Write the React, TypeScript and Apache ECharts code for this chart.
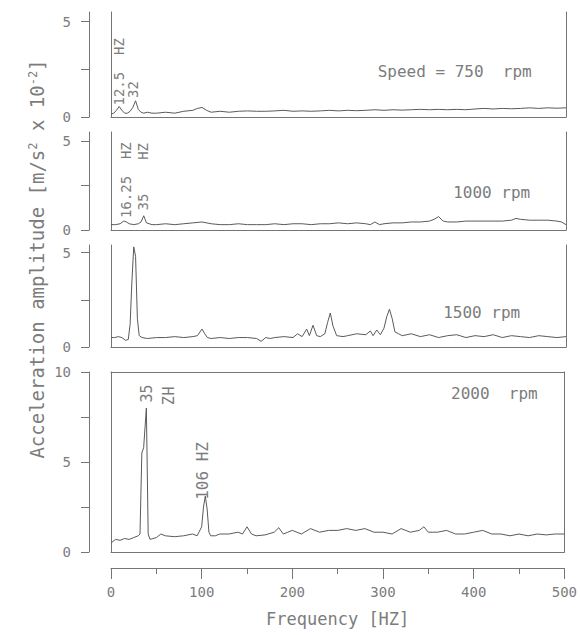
import React, { useEffect, useRef } from "react";
import * as echarts from "echarts";

// ---- data (frequency in Hz, acceleration amplitude in m/s² x 10⁻²) ----
const freqTicks = [0, 100, 200, 300, 400, 500];

const f750 = [0, 3, 6, 9, 12, 15, 18, 21, 24, 27, 30, 33, 36, 40, 45, 50, 60, 70, 80, 90, 95, 100, 105, 110, 120, 130, 140, 150, 160, 170, 180, 190, 200, 210, 220, 230, 240, 250, 260, 270, 280, 290, 300, 310, 320, 330, 340, 350, 360, 370, 380, 390, 400, 410, 420, 430, 440, 450, 460, 470, 480, 490, 500];
const a750 = [0.15, 0.2, 0.35, 0.55, 0.35, 0.2, 0.2, 0.3, 0.5, 0.85, 0.4, 0.25, 0.2, 0.25, 0.2, 0.2, 0.25, 0.2, 0.3, 0.35, 0.45, 0.5, 0.35, 0.25, 0.3, 0.25, 0.3, 0.32, 0.3, 0.3, 0.32, 0.35, 0.3, 0.32, 0.3, 0.32, 0.35, 0.32, 0.35, 0.33, 0.35, 0.38, 0.35, 0.38, 0.36, 0.38, 0.4, 0.38, 0.4, 0.38, 0.4, 0.38, 0.42, 0.45, 0.42, 0.45, 0.43, 0.45, 0.48, 0.45, 0.48, 0.46, 0.48];

const f1000 = [0, 5, 10, 14, 17, 20, 25, 30, 33, 36, 39, 45, 50, 60, 70, 80, 90, 100, 110, 120, 130, 140, 150, 160, 170, 180, 190, 200, 210, 220, 230, 240, 250, 260, 270, 280, 285, 290, 295, 300, 310, 320, 330, 340, 350, 355, 360, 365, 370, 380, 390, 400, 410, 420, 430, 440, 445, 450, 460, 470, 480, 490, 495, 500];
const a1000 = [0.3, 0.3, 0.35, 0.5, 0.45, 0.35, 0.3, 0.35, 0.45, 0.8, 0.4, 0.3, 0.3, 0.35, 0.3, 0.35, 0.4, 0.45, 0.35, 0.3, 0.3, 0.35, 0.3, 0.3, 0.3, 0.35, 0.3, 0.35, 0.35, 0.3, 0.35, 0.35, 0.4, 0.35, 0.4, 0.35, 0.3, 0.45, 0.3, 0.35, 0.4, 0.4, 0.45, 0.45, 0.5, 0.6, 0.75, 0.5, 0.45, 0.45, 0.5, 0.5, 0.5, 0.5, 0.5, 0.55, 0.65, 0.6, 0.55, 0.55, 0.55, 0.5, 0.45, 0.3];

const f1500 = [0, 4, 8, 12, 16, 19, 21, 23, 25, 27, 29, 31, 34, 40, 50, 60, 70, 80, 90, 95, 100, 103, 106, 110, 120, 130, 140, 150, 160, 165, 170, 175, 180, 190, 200, 205, 210, 215, 218, 222, 226, 230, 235, 238, 241, 244, 248, 255, 260, 270, 280, 285, 288, 292, 296, 300, 303, 306, 309, 312, 316, 320, 330, 340, 350, 360, 370, 380, 390, 400, 410, 420, 430, 440, 450, 460, 470, 480, 490, 500];
const a1500 = [0.5, 0.5, 0.55, 0.5, 0.35, 0.4, 1.2, 3.5, 5.3, 4.8, 1.5, 0.6, 0.5, 0.45, 0.5, 0.5, 0.55, 0.5, 0.55, 0.6, 0.95, 0.7, 0.5, 0.45, 0.5, 0.45, 0.5, 0.5, 0.45, 0.3, 0.5, 0.45, 0.5, 0.55, 0.5, 0.7, 0.55, 0.95, 0.6, 1.15, 0.6, 0.55, 0.7, 1.3, 1.8, 1.1, 0.6, 0.55, 0.6, 0.7, 0.65, 0.85, 0.6, 0.9, 0.65, 1.0, 1.6, 2.0, 1.5, 0.8, 0.7, 0.6, 0.7, 0.55, 0.65, 0.5, 0.6, 0.65, 0.5, 0.6, 0.55, 0.65, 0.5, 0.6, 0.55, 0.5, 0.6, 0.55, 0.5, 0.55];

const f2000 = [0, 5, 10, 15, 20, 25, 30, 32, 34, 36, 39, 41, 43, 50, 55, 60, 70, 80, 90, 95, 100, 102, 104, 106, 108, 110, 115, 120, 130, 140, 145, 150, 155, 160, 170, 180, 185, 190, 195, 200, 210, 220, 225, 230, 240, 250, 260, 270, 280, 290, 300, 310, 320, 330, 340, 345, 350, 360, 370, 380, 390, 400, 410, 420, 430, 440, 450, 460, 470, 480, 490, 500];
const a2000 = [0.5, 0.7, 0.65, 0.75, 0.7, 0.8, 0.9, 1.0, 5.5, 5.8, 8.0, 1.0, 0.7, 0.8, 1.0, 0.9, 0.85, 0.9, 1.0, 0.9, 1.4, 2.5, 3.1, 2.4, 1.1, 0.9, 0.9, 1.0, 1.0, 1.1, 1.0, 1.4, 1.0, 0.9, 0.95, 1.1, 1.35, 1.0, 1.1, 1.2, 1.0, 1.3, 1.2, 1.1, 1.2, 1.2, 1.3, 1.2, 1.3, 1.1, 1.1, 1.0, 1.3, 1.1, 1.2, 1.4, 1.1, 1.1, 1.2, 1.0, 1.0, 1.1, 1.2, 1.0, 1.0, 0.9, 1.0, 0.9, 1.0, 0.95, 1.0, 1.0];

const panelFreqs = [f750, f1000, f1500, f2000];
const panelAmps = [a750, a1000, a1500, a2000];
const panelMax = [5.5, 5.5, 5.4, 10];
const panelTicks = [[0, 2.5, 5], [0, 2.5, 5], [0, 2.5, 5], [0, 2.5, 5, 7.5, 10]];
const panelTickLabels = [[0, 5], [0, 5], [0, 5], [0, 5, 10]];

export default function App() {
  const ref = useRef<HTMLDivElement>(null);

  useEffect(() => {
    if (!ref.current) return;
    const chart = echarts.init(ref.current, null, { renderer: "svg" });
    const lineColor = "#757575";
    const textColor = "#7c7c7c";
    const mono = "'DejaVu Sans Mono', monospace";

    const grids = [
      { left: 111, right: 14, top: 12, height: 105 },
      { left: 111, right: 14, top: 132, height: 98 },
      { left: 111, right: 14, top: 245, height: 102 },
      { left: 111, right: 14, top: 372, height: 180 },
    ];

    const plainLine = { show: true, onZero: false, lineStyle: { color: lineColor, width: 1 } };
    const xAxes: any[] = [];
    const yAxes: any[] = [];
    const series: any[] = [];

    grids.forEach((_, i) => {
      xAxes.push({
        gridIndex: i, type: "value", min: 0, max: 500, position: "bottom",
        axisLine: plainLine, axisTick: { show: false }, axisLabel: { show: false }, splitLine: { show: false },
      });
      // scale axis (offset to the left of the frame)
      yAxes.push({
        gridIndex: i, type: "value", min: 0, max: panelMax[i], position: "left", offset: 22,
        axisLine: plainLine,
        axisTick: { show: true, length: 8, customValues: panelTicks[i], lineStyle: { color: lineColor } },
        axisLabel: { show: true, customValues: panelTickLabels[i], margin: 18, color: textColor, fontFamily: mono, fontSize: 14 },
        splitLine: { show: false },
      });
      // frame left line
      yAxes.push({
        gridIndex: i, type: "value", min: 0, max: 1, position: "left", offset: 0,
        axisLine: plainLine, axisTick: { show: false }, axisLabel: { show: false }, splitLine: { show: false },
      });
      // frame right line
      yAxes.push({
        gridIndex: i, type: "value", min: 0, max: 1, position: "right", offset: 0,
        axisLine: plainLine, axisTick: { show: false }, axisLabel: { show: false }, splitLine: { show: false },
      });
      series.push({
        type: "line", xAxisIndex: i, yAxisIndex: 3 * i, showSymbol: false, symbol: "none",
        lineStyle: { color: "#5a5a5a", width: 1 },
        data: panelFreqs[i].map((f, k) => [f, panelAmps[i][k]]),
      });
    });

    // top frame line of the bottom panel
    xAxes.push({
      gridIndex: 3, type: "value", min: 0, max: 500, position: "top",
      axisLine: plainLine, axisTick: { show: false }, axisLabel: { show: false }, splitLine: { show: false },
    });
    // frequency axis below the bottom panel
    xAxes.push({
      gridIndex: 3, type: "value", min: 0, max: 500, interval: 100, position: "bottom", offset: 16,
      axisLine: plainLine,
      axisTick: { show: true, length: 11, customValues: freqTicks, lineStyle: { color: lineColor } },
      minorTick: { show: true, splitNumber: 2, length: 6, lineStyle: { color: lineColor } },
      axisLabel: { show: true, margin: 17, color: textColor, fontFamily: mono, fontSize: 14, customValues: freqTicks },
      splitLine: { show: false },
      name: "Frequency [HZ]", nameLocation: "middle", nameGap: 42,
      nameTextStyle: { color: textColor, fontFamily: mono, fontSize: 17 },
    });

    chart.setOption({
      animation: false,
      backgroundColor: "#ffffff",
      grid: grids,
      xAxis: xAxes,
      yAxis: yAxes,
      series,
    });

    const annotations = [
      { p: 0, f: 9, v: 0.6, text: "12.5  HZ", rot: 90, size: 14 },
      { p: 0, f: 24, v: 1.0, text: "32", rot: 90, size: 14 },
      { p: 0, f: 293, v: 2.36, text: "Speed = 750  rpm", rot: 0, size: 16 },
      { p: 1, f: 16.5, v: 0.67, text: "16.25  HZ", rot: 90, size: 14 },
      { p: 1, f: 35, v: 1.1, text: "35    HZ", rot: 90, size: 14 },
      { p: 1, f: 376, v: 2.13, text: "1000 rpm", rot: 0, size: 16 },
      { p: 2, f: 365, v: 1.85, text: "1500 rpm", rot: 0, size: 16 },
      { p: 3, f: 39.5, v: 8.3, text: "35", rot: 90, size: 15 },
      { p: 3, f: 61.5, v: 9.2, text: "HZ", rot: -90, size: 15 },
      { p: 3, f: 101, v: 2.9, text: "106 HZ", rot: 90, size: 16 },
      { p: 3, f: 375, v: 8.83, text: "2000  rpm", rot: 0, size: 16 },
    ];

    const graphics: any[] = annotations.map((a) => {
      const pt = chart.convertToPixel({ xAxisIndex: a.p, yAxisIndex: 3 * a.p } as any, [a.f, a.v]) as number[];
      return {
        type: "text",
        x: pt[0],
        y: pt[1],
        rotation: (a.rot * Math.PI) / 180,
        style: {
          text: a.text,
          fill: textColor,
          font: `${a.size}px ${mono}`,
          align: "left",
          verticalAlign: "middle",
        },
      };
    });

    graphics.push({
      type: "text",
      x: 37,
      y: 259,
      rotation: Math.PI / 2,
      style: {
        text: "Acceleration amplitude [m/s{sup|2} x 10{sup|-2}]",
        fill: textColor,
        font: `19px ${mono}`,
        align: "center",
        verticalAlign: "middle",
        rich: {
          sup: { fontSize: 12, fontFamily: mono, fill: textColor, verticalAlign: "top", padding: [0, 0, 8, 0] },
        },
      },
    });

    chart.setOption({ graphic: graphics });

    return () => chart.dispose();
  }, []);

  return (
    <div
      ref={ref}
      style={{ position: "fixed", left: 0, top: 0, width: 580, height: 635, background: "#fff" }}
    />
  );
}
